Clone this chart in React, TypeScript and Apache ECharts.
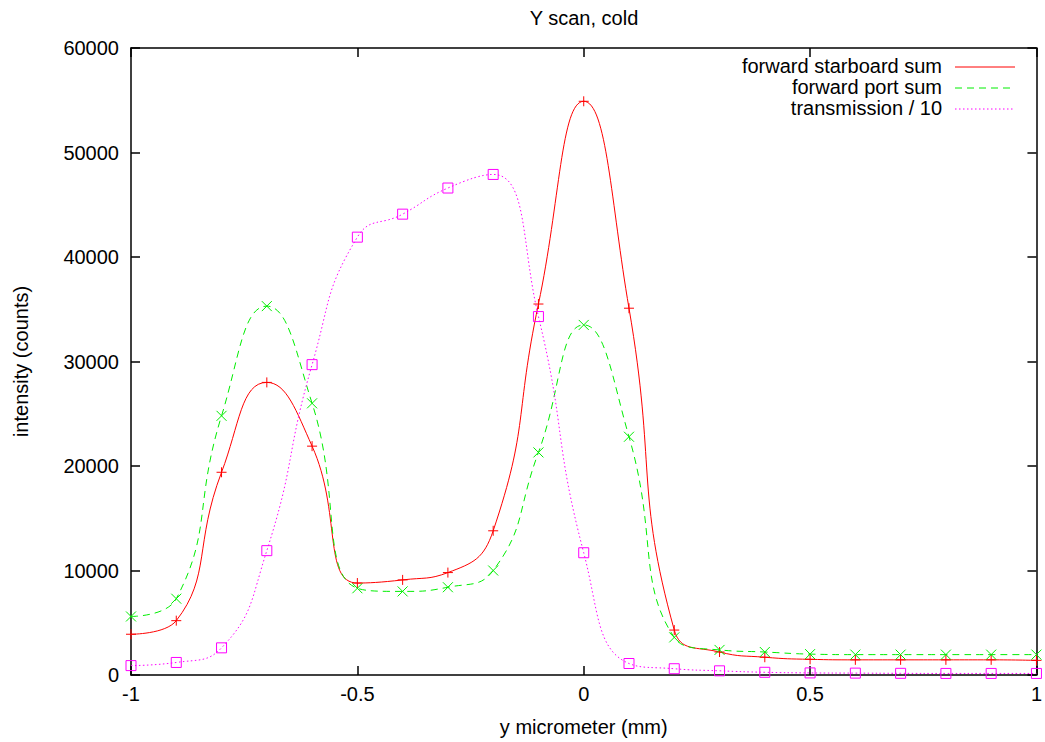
import React, { useEffect, useRef } from "react";
import * as echarts from "echarts";

const xs = [-1, -0.9, -0.8, -0.7, -0.6, -0.5, -0.4, -0.3, -0.2, -0.1, 0, 0.1, 0.2, 0.3, 0.4, 0.5, 0.6, 0.7, 0.8, 0.9, 1];
const starboard = [3900, 5200, 19400, 28000, 21900, 8800, 9100, 9800, 13800, 35500, 54900, 35100, 4300, 2200, 1700, 1500, 1450, 1450, 1450, 1450, 1400];
const port = [5600, 7300, 24800, 35300, 26000, 8300, 8000, 8400, 10000, 21300, 33500, 22800, 3600, 2400, 2200, 2000, 1950, 1950, 1950, 1950, 1950];
const transmission = [900, 1200, 2600, 11900, 29700, 41900, 44100, 46600, 47900, 34300, 11700, 1100, 600, 400, 260, 200, 180, 160, 150, 150, 150];

const seriesNames = ["forward starboard sum", "forward port sum", "transmission / 10"];
const colors = ["#ff0000", "#00ee00", "#ff00ff"];

const FONT = "'Liberation Sans', Arial, Helvetica, sans-serif";
const FS = 20;

export default function App() {
  const ref = useRef<HTMLDivElement>(null);
  useEffect(() => {
    if (!ref.current) return;
    const chart = echarts.init(ref.current, undefined, { renderer: "svg" });
    const pairs = (ys: number[]) => xs.map((x, i) => [x, ys[i]]);
    const plusPath = "path://M5,0 L5,10 M0,5 L10,5";
    const crossPath = "path://M0,0 L10,10 M0,10 L10,0";
    const squarePath = "path://M0,0 L10,0 L10,10 L0,10 Z";
    const gridLeft = 131, gridRight = 5, gridTop = 48, gridBottom = 67;
    const legendY = [67, 88, 109];
    const dashes: any[] = ["solid", [7, 5], [1.5, 2.5]];
    const legendGraphics: any[] = [];
    seriesNames.forEach((n, i) => {
      legendGraphics.push({
        type: "text",
        right: 1045 - 942,
        top: legendY[i] - 11,
        style: { text: n, fill: "#000", font: `${FS}px ${FONT}`, textAlign: "right" },
      });
      legendGraphics.push({
        type: "line",
        shape: { x1: 955, y1: legendY[i], x2: 1015, y2: legendY[i] },
        style: { stroke: colors[i], lineWidth: 1, lineDash: dashes[i] === "solid" ? null : dashes[i] },
      });
    });
    const mk = (name: string, ys: number[], color: string, symbol: string, dash: any) => ({
      name,
      type: "line",
      data: pairs(ys),
      smooth: 0.5,
      symbol,
      symbolSize: 10,
      showSymbol: true,
      lineStyle: { color, width: 1, type: dash },
      itemStyle: { color: "transparent", borderColor: color, borderWidth: 1 },
      z: 3,
    });
    const axisLine = { show: true, onZero: false, lineStyle: { color: "#000", width: 1.5 } };
    const axisTick = { show: true, inside: true, length: 9, lineStyle: { color: "#000", width: 1.5 } };
    const labelStyle = { fontFamily: FONT, fontSize: FS, color: "#000" };
    chart.setOption({
      animation: false,
      backgroundColor: "#fff",
      title: {
        text: "Y scan, cold",
        left: 579,
        top: 3,
        textAlign: "center",
        textStyle: { ...labelStyle, fontWeight: "normal" },
      },
      grid: { left: gridLeft, right: gridRight, top: gridTop, bottom: gridBottom },
      xAxis: [
        {
          type: "value",
          min: -1,
          max: 1,
          interval: 0.5,
          position: "bottom",
          name: "y micrometer (mm)",
          nameLocation: "middle",
          nameGap: 42,
          nameTextStyle: labelStyle,
          axisLine,
          axisTick,
          axisLabel: { ...labelStyle, margin: 9, formatter: (v: number) => String(v) },
          splitLine: { show: false },
        },
        {
          type: "value",
          min: -1,
          max: 1,
          interval: 0.5,
          position: "top",
          axisLine,
          axisTick,
          axisLabel: { show: false },
          splitLine: { show: false },
        },
      ],
      yAxis: [
        {
          type: "value",
          min: 0,
          max: 60000,
          interval: 10000,
          position: "left",
          name: "intensity (counts)",
          nameLocation: "middle",
          nameGap: 100,
          nameTextStyle: labelStyle,
          axisLine,
          axisTick,
          axisLabel: { ...labelStyle, margin: 12, formatter: (v: number) => String(v) },
          splitLine: { show: false },
        },
        {
          type: "value",
          min: 0,
          max: 60000,
          interval: 10000,
          position: "right",
          axisLine,
          axisTick,
          axisLabel: { show: false },
          splitLine: { show: false },
        },
      ],
      graphic: legendGraphics,
      series: [
        mk(seriesNames[0], starboard, colors[0], plusPath, "solid"),
        mk(seriesNames[1], port, colors[1], crossPath, [7, 5]),
        mk(seriesNames[2], transmission, colors[2], squarePath, [1.5, 2.5]),
      ],
    });
    return () => chart.dispose();
  }, []);
  return <div ref={ref} style={{ position: "absolute", left: 0, top: 0, width: 1045, height: 742 }} />;
}
